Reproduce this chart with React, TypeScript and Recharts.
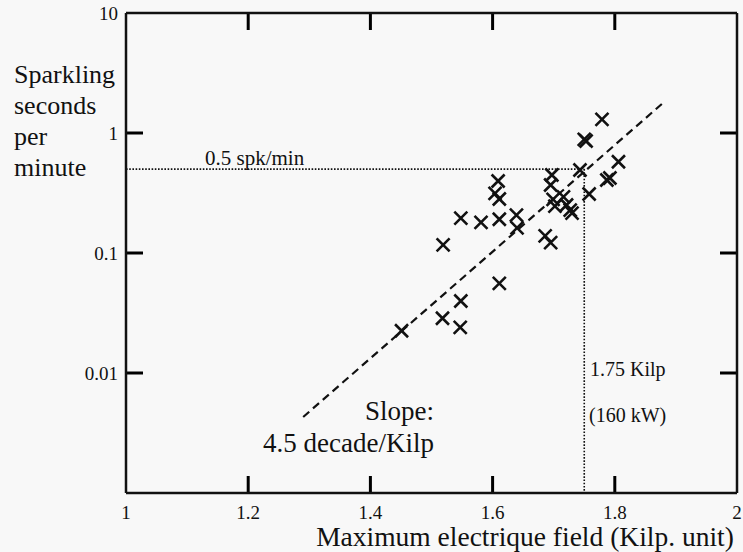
import * as React from "react";
import {
  ReferenceLine,
  Scatter,
  ScatterChart,
  XAxis,
  YAxis,
} from "recharts";

// measured points: field (Kilp) vs sparkling seconds per minute
const fieldKilp = [
  1.779, 1.75, 1.753, 1.806, 1.743, 1.787, 1.792, 1.758, 1.697, 1.695,
  1.609, 1.604, 1.611, 1.699, 1.702, 1.716, 1.721, 1.727, 1.73, 1.639,
  1.64, 1.548, 1.581, 1.611, 1.686, 1.695, 1.519, 1.611, 1.548, 1.518,
  1.547, 1.451,
];
const sparkRate = [
  1.3, 0.886, 0.858, 0.576, 0.492, 0.406, 0.422, 0.31, 0.447, 0.369,
  0.398, 0.314, 0.282, 0.28, 0.246, 0.294, 0.251, 0.228, 0.215, 0.207,
  0.162, 0.195, 0.18, 0.191, 0.139, 0.122, 0.117, 0.0559, 0.0398, 0.0286,
  0.024, 0.0225,
];

const xTicks = [1, 1.2, 1.4, 1.6, 1.8, 2];
const yTicks = [0.01, 0.1, 1, 10];

// fitted trend, 4.5 decade/Kilp
const fitLine = [
  { x: 1.29, y: 0.0043 },
  { x: 1.88, y: 1.8 },
];
const threshold = { rate: 0.5, field: 1.75 };

const points = fieldKilp.map((x, i) => ({ x, y: sparkRate[i] }));

const INK = "#111";
const SERIF = "'Liberation Serif', 'Times New Roman', serif";
const PLOT_BOTTOM = 493;
const PLOT_LEFT = 126;

// inward tick marks, expressed in axis units (17px each)
const X_MIN = 1, X_MAX = 2, Y_MIN = 0.001, Y_MAX = 10;
const TICK_X = 17 / 611;
const TICK_Y = Math.pow(10, 17 / 120);
const innerX = xTicks.filter((v) => v > X_MIN && v < X_MAX);
const innerY = yTicks.filter((v) => v > Y_MIN && v < Y_MAX);

const bottomLabel = (p: any) => (
  <text
    x={p.x}
    y={PLOT_BOTTOM + 26}
    textAnchor="middle"
    style={{ fontSize: 19, fontFamily: SERIF, fill: INK }}
  >
    {p.payload.value}
  </text>
);

const leftLabel = (p: any) => (
  <text
    x={PLOT_LEFT - 8}
    y={p.y + 7}
    textAnchor="end"
    style={{ fontSize: 19, fontFamily: SERIF, fill: INK }}
  >
    {String(p.payload.value)}
  </text>
);

const noLabel = () => <g />;

const cross = (p: any) => {
  const { cx, cy } = p;
  const s = 6.5;
  return (
    <path
      d={`M${cx - s},${cy - s}L${cx + s},${cy + s}M${cx - s},${cy + s}L${cx + s},${cy - s}`}
      stroke={INK}
      strokeWidth={2.6}
      fill="none"
    />
  );
};

export default function App() {
  const axisLine = { stroke: INK, strokeWidth: 2.5 };
  const common = {
    interval: 0 as const,
    tickSize: 0,
    tickMargin: 0,
    stroke: INK,
    axisLine,
    tickLine: false,
    allowDataOverflow: true,
  };
  const tickProps = { xAxisId: "b", yAxisId: "l", stroke: "#000", strokeWidth: 3, ifOverflow: "visible" as const };
  return (
    <div style={{ position: "absolute", left: 0, top: 0, width: 743, height: 552, background: "#f8f8f8" }}>
      <ScatterChart width={743} height={552} margin={{ top: 3, right: 0, bottom: 19, left: 86 }}>
        <XAxis
          xAxisId="b"
          type="number"
          dataKey="x"
          domain={[X_MIN, X_MAX]}
          ticks={xTicks}
          height={40}
          tick={bottomLabel}
          {...common}
        />
        <XAxis
          xAxisId="t"
          orientation="top"
          type="number"
          dataKey="x"
          domain={[X_MIN, X_MAX]}
          ticks={xTicks}
          height={10}
          tick={noLabel}
          {...common}
        />
        <YAxis
          yAxisId="l"
          type="number"
          dataKey="y"
          scale="log"
          domain={[Y_MIN, Y_MAX]}
          ticks={yTicks}
          width={40}
          tick={leftLabel}
          {...common}
        />
        <YAxis
          yAxisId="r"
          orientation="right"
          type="number"
          dataKey="y"
          scale="log"
          domain={[Y_MIN, Y_MAX]}
          ticks={yTicks}
          width={6}
          tick={noLabel}
          {...common}
        />
        {innerX.map((v) => (
          <ReferenceLine
            key={`b${v}`}
            {...tickProps}
            segment={[
              { x: v, y: Y_MIN },
              { x: v, y: Y_MIN * TICK_Y },
            ]}
          />
        ))}
        {innerX.map((v) => (
          <ReferenceLine
            key={`t${v}`}
            {...tickProps}
            segment={[
              { x: v, y: Y_MAX },
              { x: v, y: Y_MAX / TICK_Y },
            ]}
          />
        ))}
        {innerY.map((v) => (
          <ReferenceLine
            key={`l${v}`}
            {...tickProps}
            segment={[
              { x: X_MIN, y: v },
              { x: X_MIN + TICK_X, y: v },
            ]}
          />
        ))}
        {innerY.map((v) => (
          <ReferenceLine
            key={`r${v}`}
            {...tickProps}
            segment={[
              { x: X_MAX, y: v },
              { x: X_MAX - TICK_X, y: v },
            ]}
          />
        ))}
        <ReferenceLine
          xAxisId="b"
          yAxisId="l"
          segment={[
            { x: X_MIN, y: threshold.rate },
            { x: threshold.field, y: threshold.rate },
          ]}
          stroke={INK}
          strokeWidth={1.6}
          strokeDasharray="1.6 1.6"
        />
        <ReferenceLine
          xAxisId="b"
          yAxisId="l"
          segment={[
            { x: threshold.field, y: threshold.rate },
            { x: threshold.field, y: Y_MIN },
          ]}
          stroke={INK}
          strokeWidth={1.6}
          strokeDasharray="1.6 1.6"
        />
        <ReferenceLine
          xAxisId="b"
          yAxisId="l"
          segment={fitLine}
          stroke={INK}
          strokeWidth={2.2}
          strokeDasharray="8 5"
        />
        <Scatter
          xAxisId="b"
          yAxisId="l"
          data={points}
          shape={cross}
          isAnimationActive={false}
        />
      </ScatterChart>

      <svg
        width={743}
        height={552}
        style={{ position: "absolute", left: 0, top: 0, pointerEvents: "none" }}
        fontFamily={SERIF}
        fill={INK}
      >
        <text x={14} y={83} fontSize={26}>Sparkling</text>
        <text x={14} y={114} fontSize={26}>seconds</text>
        <text x={14} y={145} fontSize={26}>per</text>
        <text x={14} y={176} fontSize={26}>minute</text>
        <text x={205} y={165} fontSize={21}>0.5 spk/min</text>
        <text x={590} y={376} fontSize={20}>1.75 Kilp</text>
        <text x={589} y={422} fontSize={20}>(160 kW)</text>
        <text x={365} y={420} fontSize={27}>Slope:</text>
        <text x={263} y={452} fontSize={27}>4.5 decade/Kilp</text>
        <text x={525} y={546} fontSize={27.5} textAnchor="middle">
          Maximum electrique field (Kilp. unit)
        </text>
      </svg>
    </div>
  );
}
